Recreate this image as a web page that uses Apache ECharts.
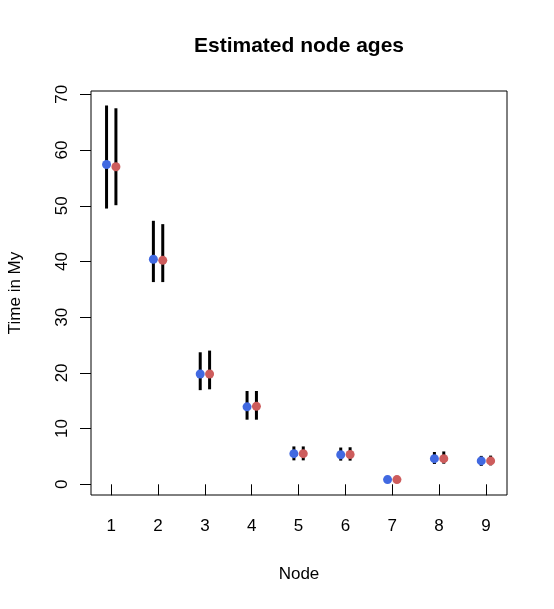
<!DOCTYPE html>
<html lang="en">
<head>
    <title>node ages</title>
    <meta charset="utf-8">
</head>
<body style="margin:0">
<script type="text/javascript" src="https://cdn.jsdelivr.net/npm/echarts@6/dist/echarts.min.js"></script>
<div id="main" style="width: 554px;height: 609px"></div>
<script type="text/javascript">
    var nodes = [1, 2, 3, 4, 5, 6, 7, 8, 9];
    var yTicks = [0, 10, 20, 30, 40, 50, 60, 70];
    // first estimate (blue)
    var blueAge  = [57.4, 40.4, 19.8, 13.9, 5.5, 5.3, 0.85, 4.6, 4.2];
    var blueLow  = [49.5, 36.3, 16.9, 11.6, 4.3, 4.25, 0.85, 3.65, 3.3];
    var blueHigh = [68.0, 47.3, 23.7, 16.75, 6.8, 6.6, 0.85, 5.8, 5.1];
    // second estimate (red)
    var redAge  = [57.0, 40.2, 19.8, 14.0, 5.5, 5.35, 0.85, 4.6, 4.2];
    var redLow  = [50.1, 36.3, 17.05, 11.6, 4.3, 4.25, 0.85, 3.7, 3.4];
    var redHigh = [67.5, 46.7, 24.0, 16.75, 6.8, 6.65, 0.85, 5.9, 5.15];

    var dodge = 0.1;
    var font = 'Liberation Sans, Arial, sans-serif';

    var bars = [], bluePts = [], redPts = [];
    for (var i = 0; i < nodes.length; i++) {
        bars.push([nodes[i] - dodge, blueLow[i], blueHigh[i]]);
        bars.push([nodes[i] + dodge, redLow[i], redHigh[i]]);
        bluePts.push([nodes[i] - dodge, blueAge[i]]);
        redPts.push([nodes[i] + dodge, redAge[i]]);
    }

    var myChart = echarts.init(document.getElementById('main'));
    var option = {
        animation: false,
        backgroundColor: '#fff',
        grid: {
            left: 91, right: 47, top: 91, bottom: 114,
            show: true, borderColor: '#000', borderWidth: 1
        },
        graphic: [
            {type: 'text', x: 299, y: 46, style: {text: 'Estimated node ages', font: 'bold 21px ' + font, fill: '#000', textAlign: 'center', textVerticalAlign: 'middle'}},
            {type: 'text', x: 299, y: 574, style: {text: 'Node', font: '17px ' + font, fill: '#000', textAlign: 'center', textVerticalAlign: 'middle'}},
            {type: 'text', x: 15, y: 293, rotation: Math.PI / 2, style: {text: 'Time in My', font: '17px ' + font, fill: '#000', textAlign: 'center', textVerticalAlign: 'middle'}}
        ],
        xAxis: {
            type: 'value', min: 0.568, max: 9.45,
            axisLine: {show: false},
            splitLine: {show: false},
            axisTick: {show: true, length: 11, customValues: nodes, lineStyle: {color: '#000'}},
            axisLabel: {customValues: nodes, margin: 23, fontSize: 17, fontFamily: font, color: '#000'}
        },
        yAxis: {
            type: 'value', min: -1.92, max: 70.6,
            axisLine: {show: false},
            splitLine: {show: false},
            axisTick: {show: true, length: 11, customValues: yTicks, lineStyle: {color: '#000'}},
            axisLabel: {customValues: yTicks, rotate: 90, margin: 20, fontSize: 17, fontFamily: font, color: '#000'}
        },
        series: [{
            type: 'custom',
            z: 1,
            data: bars,
            renderItem: function (params, api) {
                var top = api.coord([api.value(0), api.value(2)]);
                var bot = api.coord([api.value(0), api.value(1)]);
                return {
                    type: 'line',
                    shape: {x1: top[0], y1: top[1], x2: bot[0], y2: bot[1]},
                    style: {stroke: '#000', lineWidth: 3}
                };
            }
        }, {
            type: 'scatter', z: 3,
            symbolSize: 9,
            itemStyle: {color: '#4169E1', opacity: 1},
            data: bluePts
        }, {
            type: 'scatter', z: 3,
            symbolSize: 9,
            itemStyle: {color: '#CD5C5C', opacity: 1},
            data: redPts
        }]
    };
    myChart.setOption(option);
</script>
</body>
</html>
